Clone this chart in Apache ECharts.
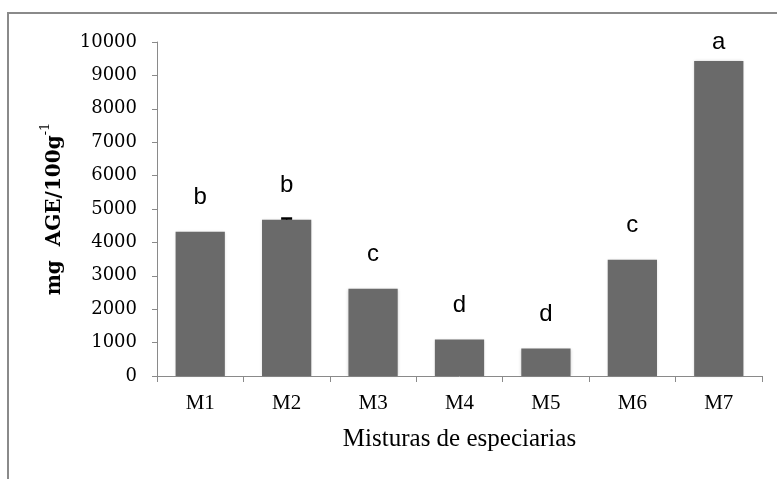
<!DOCTYPE html>
<html>
<head>
<meta charset="utf-8">
<script src="https://cdn.jsdelivr.net/npm/echarts@6/dist/echarts.min.js"></script>
<style>
html,body{margin:0;padding:0;background:#fff;}
#chart{width:777px;height:479px;}
</style>
</head>
<body>
<div id="chart"></div>
<script>
// ---- data ----
const categories = ['M1', 'M2', 'M3', 'M4', 'M5', 'M6', 'M7'];
const values = [4320, 4680, 2610, 1090, 820, 3480, 9430];
const letters = ['b', 'b', 'c', 'd', 'd', 'c', 'a'];
const errors = [0, 35, 0, 0, 0, 0, 0];
const yTicks = [0, 1000, 2000, 3000, 4000, 5000, 6000, 7000, 8000, 9000, 10000];

const chart = echarts.init(document.getElementById('chart'), null, {renderer: 'canvas'});

const barData = values.map((v, i) => {
  const item = {value: v};
  if (v === Math.max(...values)) item.label = {distance: 7};
  return item;
});

const errData = values.map((v, i) => [i, v, errors[i]]);

const option = {
  animation: false,
  backgroundColor: '#fff',
  graphic: [{
    type: 'rect',
    shape: {x: 8, y: 13, width: 800, height: 500},
    style: {fill: 'none', stroke: '#8a8a8a', lineWidth: 2},
    z: 0
  }],
  grid: {left: 157, right: 15, top: 42, bottom: 103},
  xAxis: {
    type: 'category',
    data: categories,
    name: 'Misturas de especiarias',
    nameLocation: 'middle',
    nameGap: 51,
    nameTextStyle: {fontFamily: 'Liberation Serif', fontSize: 25, color: '#000'},
    axisLine: {lineStyle: {color: '#8a8a8a', width: 1}},
    axisTick: {show: true, length: 6, lineStyle: {color: '#8a8a8a'}},
    axisLabel: {fontFamily: 'Liberation Serif', fontSize: 21, color: '#000', margin: 17}
  },
  yAxis: {
    type: 'value',
    min: 0,
    max: 10000,
    interval: 1000,
    name: '{b|mg  AGE/100g}{sup|-1}',
    nameLocation: 'middle',
    nameGap: 92,
    nameRotate: 90,
    nameTextStyle: {
      rich: {
        b: {fontFamily: 'DejaVu Serif', fontWeight: 'bold', fontSize: 20, color: '#000', lineHeight: 26, verticalAlign: 'bottom'},
        sup: {fontFamily: 'DejaVu Serif', fontSize: 13, color: '#000', lineHeight: 26, verticalAlign: 'top'}
      }
    },
    splitLine: {show: false},
    axisLine: {show: true, lineStyle: {color: '#8a8a8a', width: 1}},
    axisTick: {show: true, length: 5, lineStyle: {color: '#8a8a8a'}},
    axisLabel: {
      fontFamily: 'DejaVu Serif', fontSize: 18, color: '#000', margin: 20,
      formatter: v => yTicks.includes(v) ? String(v) : ''
    }
  },
  series: [{
    type: 'bar',
    data: barData,
    barWidth: '57%',
    itemStyle: {color: '#6a6a6a', shadowColor: 'rgba(0,0,0,0.18)', shadowBlur: 3},
    label: {
      show: true,
      position: 'top',
      distance: 22,
      fontFamily: 'Liberation Sans',
      fontSize: 24,
      color: '#000',
      formatter: p => letters[p.dataIndex]
    },
    z: 2
  }, {
    type: 'custom',
    data: errData,
    z: 5,
    renderItem: (params, api) => {
      const e = api.value(2);
      if (!e) return;
      const x = api.value(0), v = api.value(1);
      const p0 = api.coord([x, v]);
      const p1 = api.coord([x, v + e]);
      const hw = 5.5;
      return {
        type: 'group',
        children: [{
          type: 'line',
          shape: {x1: p0[0], y1: p0[1], x2: p1[0], y2: p1[1]},
          style: {stroke: '#000', lineWidth: 1.5}
        }, {
          type: 'line',
          shape: {x1: p1[0] - hw, y1: p1[1], x2: p1[0] + hw, y2: p1[1]},
          style: {stroke: '#000', lineWidth: 2.5}
        }]
      };
    }
  }]
};

chart.setOption(option);
</script>
</body>
</html>
